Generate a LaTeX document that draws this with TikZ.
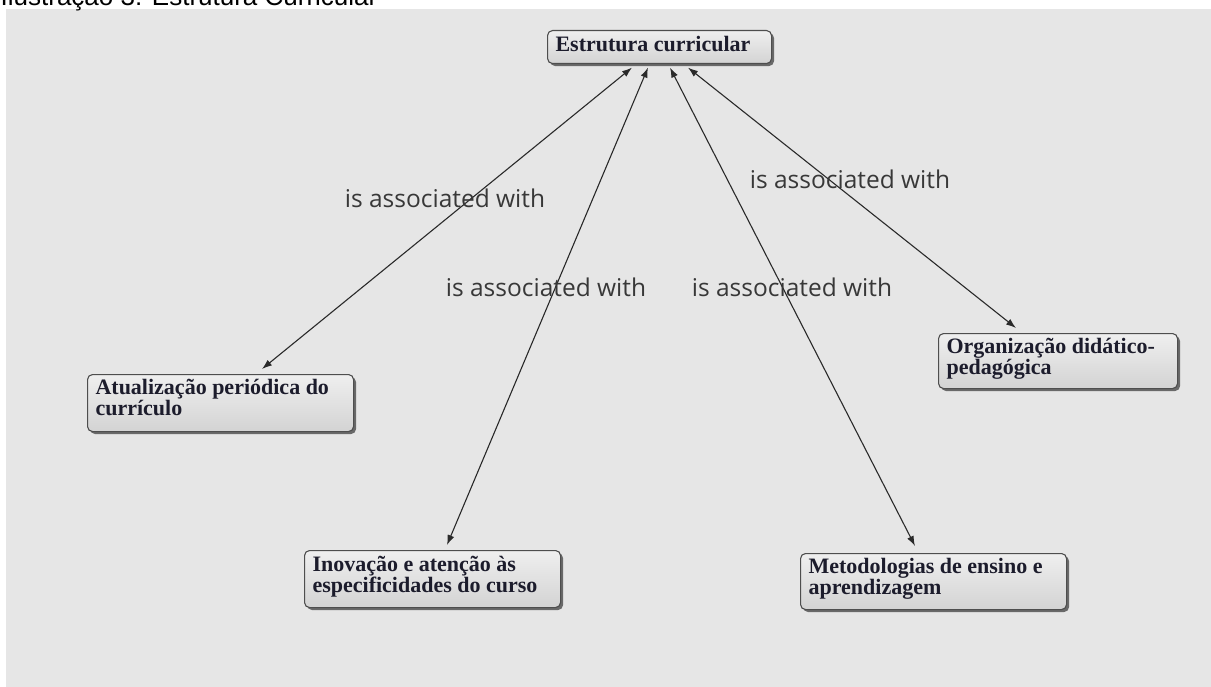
\documentclass[tikz,border=0pt]{standalone}
\usepackage{fontspec}
\setmainfont{Liberation Serif}
\newfontfamily\captionface{Liberation Sans}
\newfontfamily\linkface{Open Sans}
\usetikzlibrary{shadows,arrows.meta}

\definecolor{panelgray}{HTML}{E6E6E6}
\definecolor{boxtop}{HTML}{EFEFEF}
\definecolor{boxbottom}{HTML}{D3D3D3}
\definecolor{boxline}{HTML}{4E4E4E}
\definecolor{conceptink}{HTML}{1C1C2C}
\definecolor{linkline}{HTML}{2A2A2A}
\definecolor{labelink}{HTML}{383838}

% box text: width, height, first baseline, lines
\newcommand\conceptlines[4]{\parbox[c][#2][t]{#1}{\raggedright\rule{0pt}{#3}#4}}

\begin{document}
\begin{tikzpicture}[x=1pt,y=-1pt,
  conceptbox/.style={draw=boxline, line width=1.1pt, rounded corners=5pt,
    top color=boxtop, bottom color=boxbottom,
    drop shadow={shadow xshift=2.5pt, shadow yshift=-2.5pt, fill=black!75, opacity=0.75},
    inner xsep=8pt, inner ysep=0pt, anchor=north west,
    font=\fontsize{22}{21.5}\selectfont\bfseries, text=conceptink},
  assoc/.style={draw=linkline, line width=1.1pt,
    {Latex[length=10pt,width=7pt]}-{Latex[length=10pt,width=7pt]}},
  linklabel/.style={font=\linkface\fontsize{24.5}{28}\selectfont, text=labelink,
    anchor=base, inner sep=0pt}]

\useasboundingbox (0,0) rectangle (1211,687);
\fill[panelgray] (6,9) rectangle (1211,687);

\node[anchor=base west, inner sep=0pt, text=black,
  font=\captionface\fontsize{26}{30}\selectfont] (caption) at (0.5,5.5)
  {Ilustração 3: Estrutura Curricular};

% concepts
\node[conceptbox] (est) at (547,30)
  {\conceptlines{208pt}{33pt}{21pt}{Estrutura curricular}};
\node[conceptbox] (atu) at (87,374)
  {\conceptlines{250pt}{57pt}{19.5pt}{Atualização periódica do\\currículo}};
\node[conceptbox] (ino) at (304,550)
  {\conceptlines{240pt}{57pt}{20.5pt}{Inovação e atenção às\\especificidades do curso}};
\node[conceptbox] (met) at (800,553)
  {\conceptlines{250pt}{56pt}{19.5pt}{Metodologias de ensino e\\aprendizagem}};
\node[conceptbox] (org) at (938,333)
  {\conceptlines{223pt}{55pt}{19.5pt}{Organização didático-\\pedagógica}};

% associations
\draw[assoc] ([xshift=85pt,yshift=-3.5pt]est.south west) -- ([xshift=175pt,yshift=5pt]atu.north west);
\draw[assoc] ([xshift=101pt,yshift=-3.5pt]est.south west) -- ([xshift=143pt,yshift=5pt]ino.north west);
\draw[assoc] ([xshift=123pt,yshift=-3.5pt]est.south west) -- ([xshift=115pt,yshift=7pt]met.north west);
\draw[assoc] ([xshift=141pt,yshift=-3.5pt]est.south west) -- ([xshift=78pt,yshift=5pt]org.north west);

% link labels
\node[linklabel] (l1) at (445,208) {is associated with};
\node[linklabel] (l2) at (850,189) {is associated with};
\node[linklabel] (l3) at (546,297) {is associated with};
\node[linklabel] (l4) at (792,297) {is associated with};
\end{tikzpicture}
\end{document}
